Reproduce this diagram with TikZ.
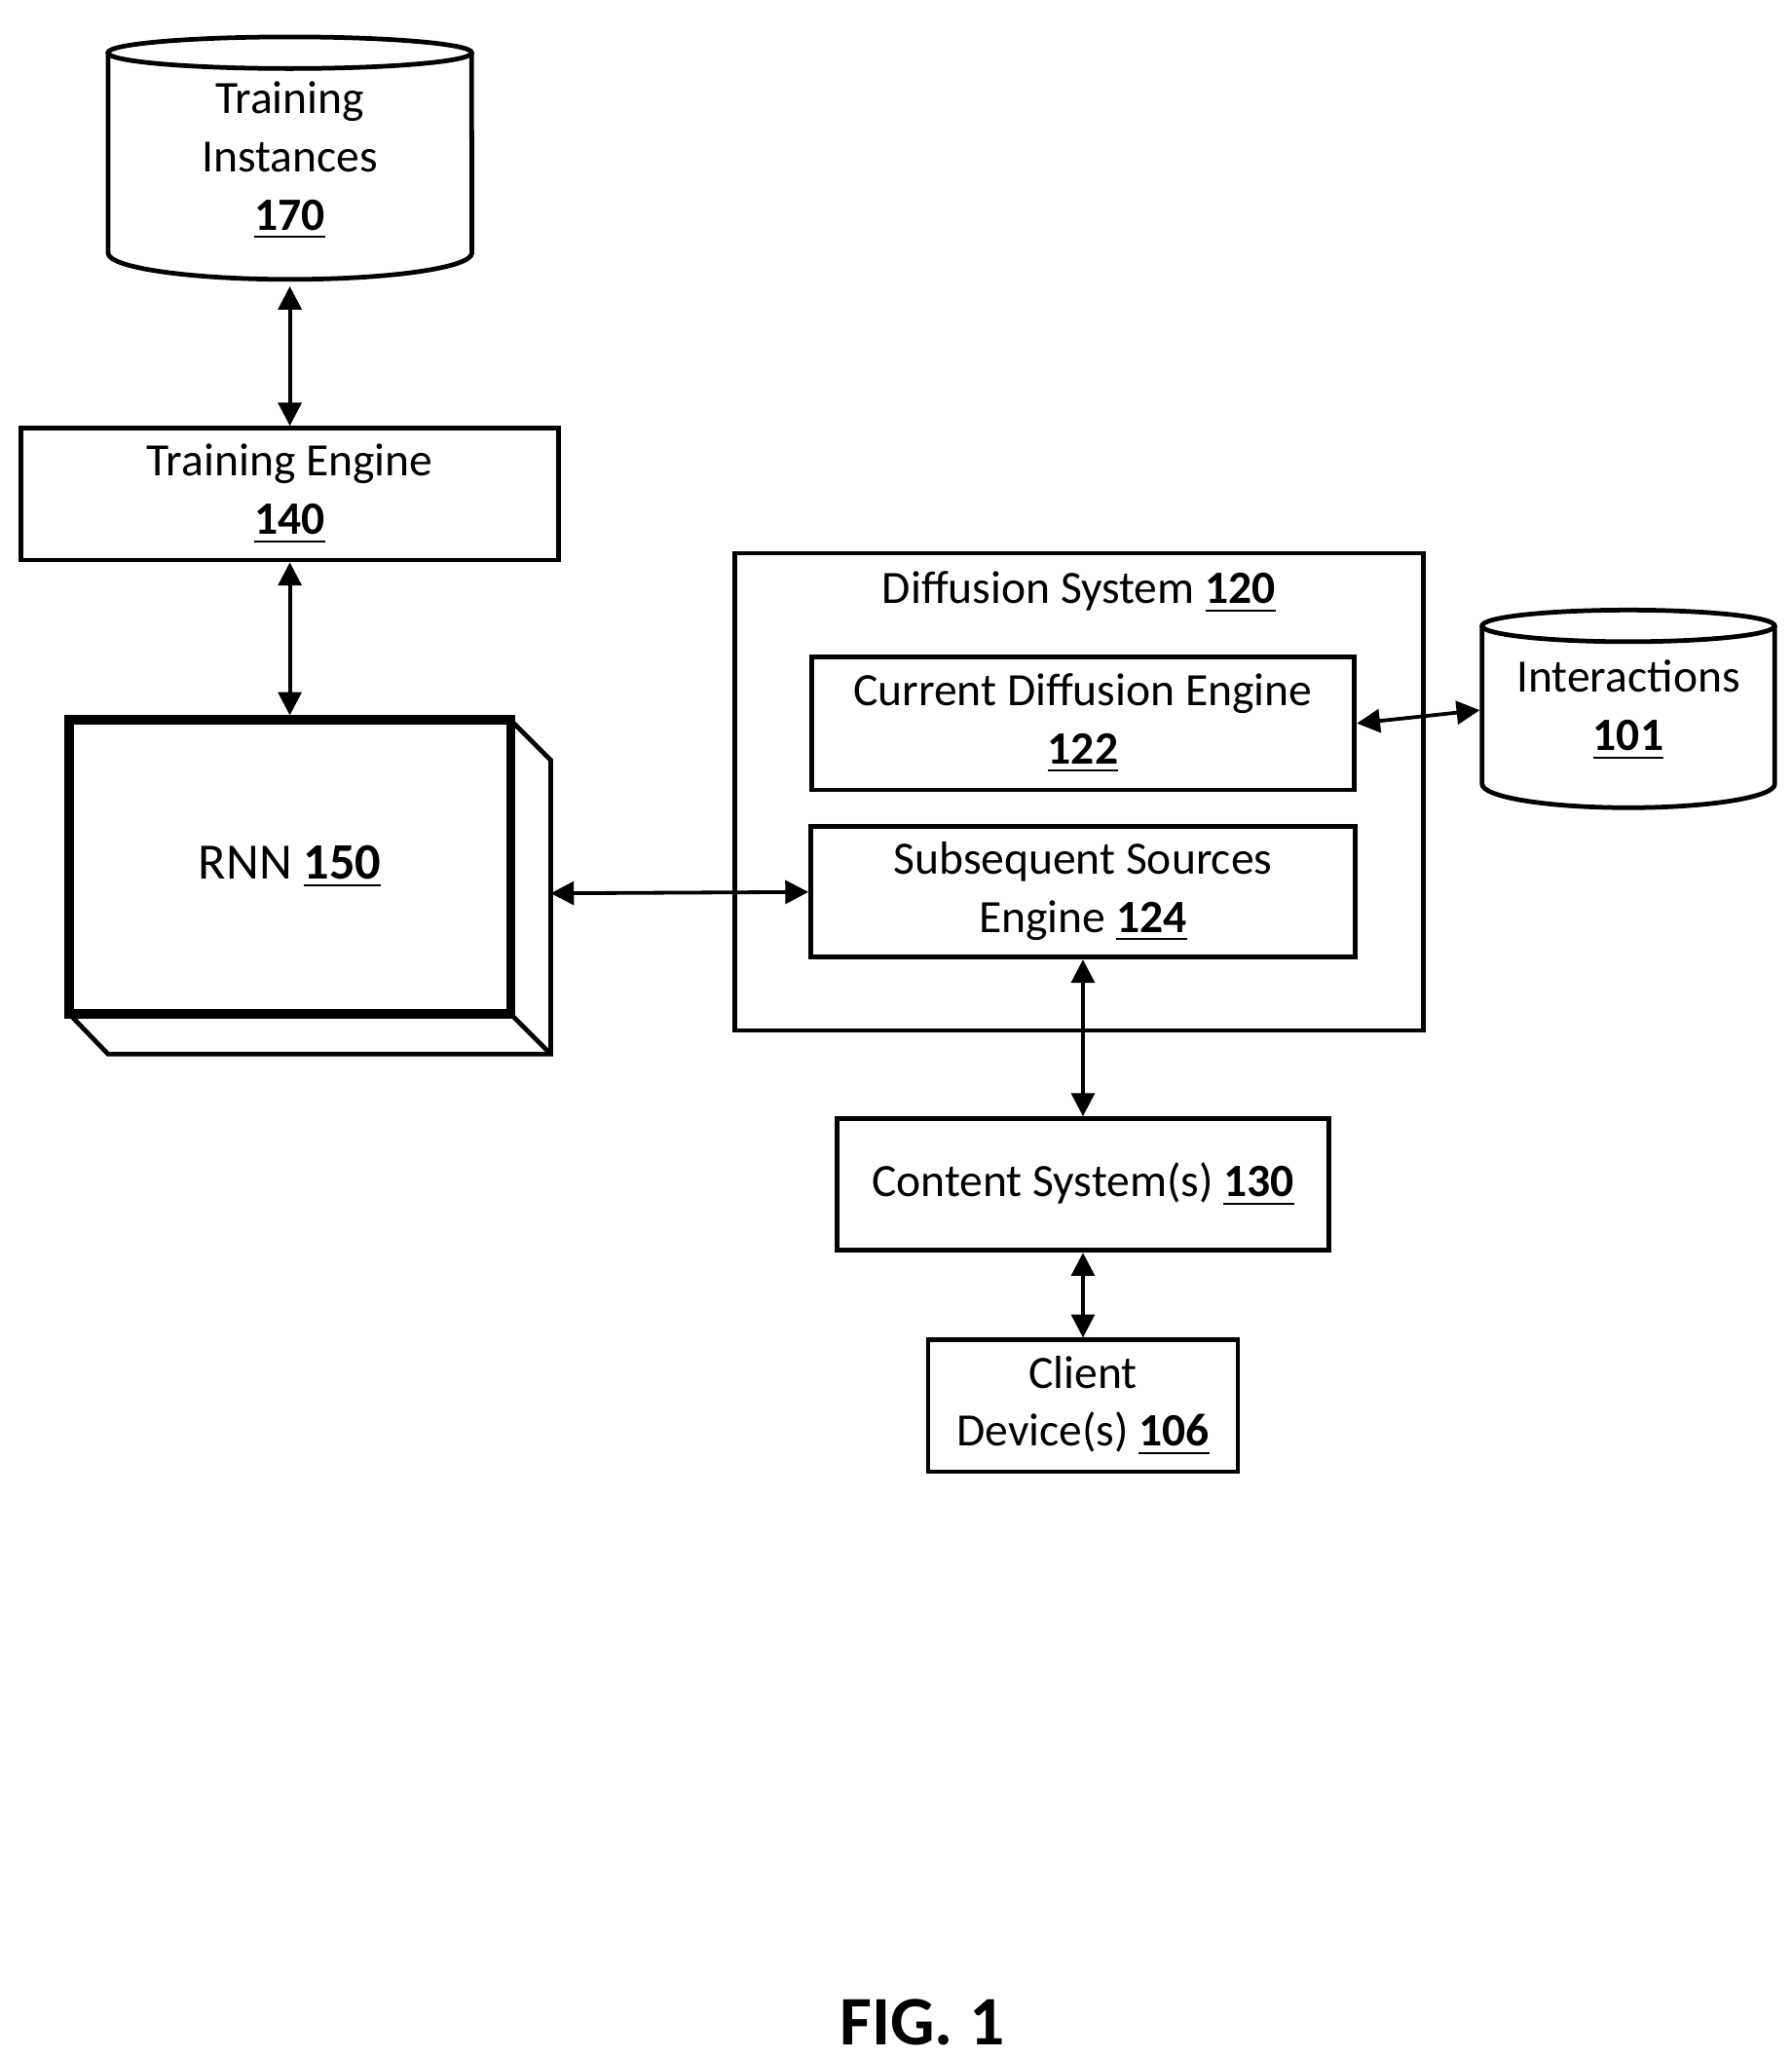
\documentclass[tikz,border=0pt]{standalone}
\usepackage{fontspec}
\setmainfont{Carlito}
\usetikzlibrary{arrows.meta}
\newcommand{\refnum}[1]{\underline{\textbf{#1}}}
\tikzset{
  blk/.style={draw, line width=1pt, align=center, inner sep=0pt, font=\fontsize{10}{12.6}\selectfont},
  lnk/.style={{Triangle[length=5pt,width=5pt]}-{Triangle[length=5pt,width=5pt]}, line width=0.8pt},
}
\begin{document}
\begin{tikzpicture}[x=0.01cm,y=-0.01cm]
        \useasboundingbox (0,0) rectangle (1360,1562);

        % cylinders
        \draw[line width=1pt] (82,40) -- (82,192) arc[start angle=180,end angle=360,x radius=1.38cm,y radius=0.2cm] -- (358,40);
        \draw[line width=1pt] (220,40) ellipse[x radius=1.38cm,y radius=0.12cm];
        \node[blk, draw=none, minimum width=2.76cm, minimum height=1.87cm] at (220,122) (instances) {Training\\Instances\\\refnum{170}};

        \draw[line width=1pt] (1125,475) -- (1125,595) arc[start angle=180,end angle=360,x radius=1.11cm,y radius=0.18cm] -- (1347,475);
        \draw[line width=1pt] (1236,475) ellipse[x radius=1.11cm,y radius=0.12cm];
        \node[blk, draw=none, minimum width=2.22cm, minimum height=1.5cm] at (1236,539) (interactions) {Interactions\\\refnum{101}};

        \node[blk, minimum width=4.08cm, minimum height=1cm] at (220,375) (trainer) {Training Engine\\\refnum{140}};

        % rnn block
        \draw[line width=1pt] (388,547) -- (418,577) -- (418,800) -- (82,800) -- (53,770);
        \draw[line width=1pt] (388,770) -- (418,800);
        \node[blk, line width=2pt, minimum width=3.35cm, minimum height=2.23cm, font=\fontsize{11}{13}\selectfont] at (220,658) (rnn) {RNN \refnum{150}};
        \coordinate (rnnside) at (418,678);

        \node[blk, minimum width=5.22cm, minimum height=3.62cm] at (819,601) (diffusion) {};
        \node[blk, draw=none, anchor=north] at (819,432) (diffusiontitle) {Diffusion System \refnum{120}};
        \node[blk, minimum width=4.12cm, minimum height=1.01cm] at (822,549) (current) {Current Diffusion Engine\\\refnum{122}};
        \node[blk, minimum width=4.13cm, minimum height=0.99cm] at (822,677) (subsequent) {Subsequent Sources\\Engine \refnum{124}};

        \node[blk, minimum width=3.73cm, minimum height=1cm] at (822,899) (content) {Content System(s) \refnum{130}};
        \node[blk, minimum width=2.35cm, minimum height=1cm] at (822,1067) (client) {Client\\Device(s) \refnum{106}};

        \node[font=\fontsize{15}{18}\selectfont\bfseries] at (700,1535) (figlabel) {FIG. 1};

        \draw[lnk] (instances.south) -- (trainer.north);
        \draw[lnk] (trainer.south) -- (rnn.north);
        \draw[lnk] (rnnside) -- (subsequent.west);
        \draw[lnk] (current.east) -- (interactions.west);
        \draw[lnk] (subsequent.south) -- (content.north);
        \draw[lnk] (content.south) -- (client.north);
\end{tikzpicture}
\end{document}
